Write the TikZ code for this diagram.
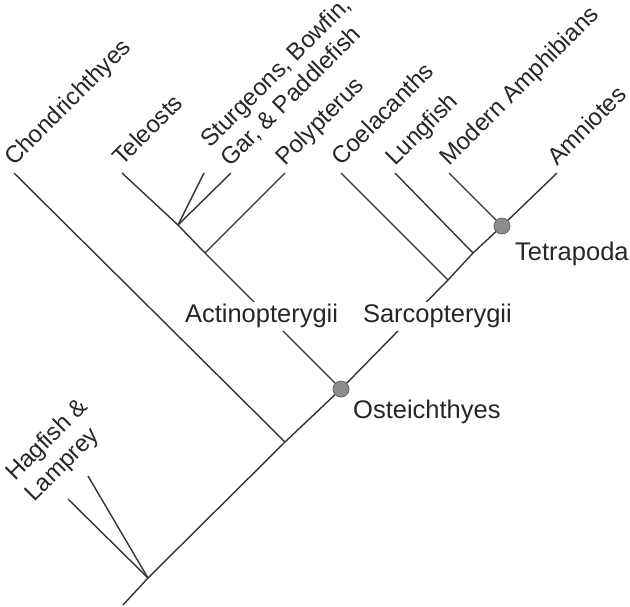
\documentclass[tikz,border=0pt]{standalone}
\usepackage{fontspec}
\setmainfont{Liberation Sans}
\begin{document}
\begin{tikzpicture}[x=1pt,y=-1pt,
  branch/.style={draw=black!80,line width=1.4pt},
  leaflabel/.style={rotate=45,anchor=base west,inner sep=0pt,text=black!85,font=\fontsize{24}{27}\selectfont},
  cladelabel/.style={anchor=base west,inner sep=0pt,text=black!85,font=\fontsize{25.5}{29}\selectfont},
  gaplabel/.style={cladelabel,fill=white,outer sep=0pt},
  dot/.style={circle,fill=black!45,draw=black!60,line width=0.8pt,minimum size=16pt,inner sep=0pt}]
\path[use as bounding box] (0,0) rectangle (630,606);
% coordinates
\coordinate (base) at (123,605);
\coordinate (hj) at (148,578);
\coordinate (hag1) at (68,499);
\coordinate (hag2) at (88,476);
\coordinate (cj) at (285,442);
\coordinate (chond) at (14,173);
\coordinate (oj) at (341,389);
\coordinate (pj) at (205,253);
\coordinate (tj) at (178,225);
\coordinate (tele) at (122,173);
\coordinate (stur1) at (204,173);
\coordinate (stur2) at (231,173);
\coordinate (poly) at (285,173);
\coordinate (coj) at (448,280);
\coordinate (coel) at (341,173);
\coordinate (luj) at (473,253);
\coordinate (lung) at (395,173);
\coordinate (tetj) at (502,226);
\coordinate (amph) at (449,173);
\coordinate (amni) at (557,173);
% branches
\draw[branch] (base) -- (hj) -- (cj) -- (oj) -- (coj) -- (luj) -- (tetj) -- (amni);
\draw[branch] (hj) -- (hag1);
\draw[branch] (hj) -- (hag2);
\draw[branch] (cj) -- (chond);
\draw[branch] (oj) -- (pj) -- (tj) -- (tele);
\draw[branch] (pj) -- (poly);
\draw[branch] (tj) -- (stur1);
\draw[branch] (tj) -- (stur2);
\draw[branch] (coj) -- (coel);
\draw[branch] (luj) -- (lung);
\draw[branch] (tetj) -- (amph);
% clade labels breaking the lines
\node[gaplabel] (act) at (185,322) {\strut Actinopterygii};
\node[gaplabel] (sar) at (363,322) {\strut Sarcopterygii};
% dots
\node[dot] (odot) at (oj) {};
\node[dot] (tdot) at (tetj) {};
\node[cladelabel] (ost) at (353,418) {Osteichthyes};
\node[cladelabel] (tet) at (515,260) {Tetrapoda};
% leaf labels
\node[leaflabel] (lchond) at (14,167) {Chondrichthyes};
\node[leaflabel] (ltele) at (122,167) {Teleosts};
\node[leaflabel] (lstur1) at (210,149) {Sturgeons, Bowfin,};
\node[leaflabel] (lstur2) at (230,168) {Gar, \& Paddlefish};
\node[leaflabel] (lpoly) at (285,167) {Polypterus};
\node[leaflabel] (lcoel) at (341,167) {Coelacanths};
\node[leaflabel] (llung) at (395,167) {Lungfish};
\node[leaflabel] (lamph) at (449,167) {Modern Amphibians};
\node[leaflabel] (lamni) at (557,167) {Amniotes};
\node[leaflabel] (lhag1) at (15,482) {Hagfish \&};
\node[leaflabel] (lhag2) at (34,503) {Lamprey};
\end{tikzpicture}
\end{document}
